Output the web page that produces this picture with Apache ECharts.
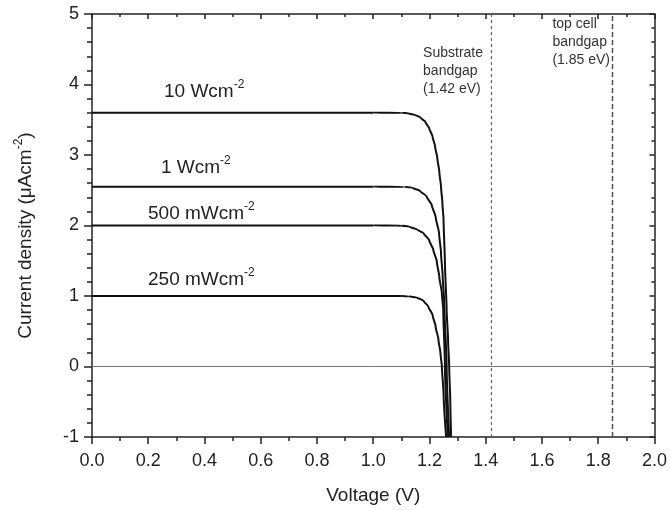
<!DOCTYPE html>
<html>
<head>
<meta charset="utf-8">
<script src="https://cdn.jsdelivr.net/npm/echarts@6/dist/echarts.min.js"></script>
<style>
html,body{margin:0;padding:0;background:#fff;}
#chart{width:670px;height:510px;}
</style>
</head>
<body>
<div id="chart"></div>
<script>
// ---- data ----
const voltage10W   = [0, 1.00, 1.10, 1.126, 1.149, 1.167, 1.185, 1.199, 1.211, 1.220, 1.228, 1.235, 1.241, 1.246, 1.250, 1.255, 1.261, 1.266, 1.270, 1.274, 1.277];
const current10W   = [3.60, 3.60, 3.598, 3.59, 3.567, 3.535, 3.47, 3.38, 3.26, 3.12, 2.95, 2.76, 2.55, 2.31, 2.08, 1.45, 0.80, 0.38, 0.00, -0.50, -1.00];

const voltage1W    = [0, 1.00, 1.11, 1.137, 1.167, 1.190, 1.208, 1.222, 1.234, 1.241, 1.247, 1.252, 1.261, 1.270];
const current1W    = [2.55, 2.55, 2.548, 2.54, 2.49, 2.41, 2.29, 2.12, 1.89, 1.61, 1.27, 0.94, 0.00, -1.00];

const voltage500mW = [0, 1.00, 1.10, 1.126, 1.155, 1.179, 1.199, 1.214, 1.226, 1.235, 1.244, 1.249, 1.255, 1.265];
const current500mW = [2.00, 2.00, 1.998, 1.985, 1.946, 1.89, 1.79, 1.65, 1.49, 1.27, 1.04, 0.80, 0.00, -1.00];

const voltage250mW = [0, 1.00, 1.10, 1.126, 1.155, 1.179, 1.196, 1.211, 1.222, 1.232, 1.239, 1.244, 1.250, 1.259];
const current250mW = [1.00, 1.00, 1.00, 0.995, 0.98, 0.933, 0.848, 0.73, 0.565, 0.376, 0.187, 0.00, -0.38, -1.00];

const bandgapValues = [1.42, 1.85];
const xTicks = {min: 0, max: 2.0, interval: 0.2};
const yTicks = {min: -1, max: 5, interval: 1};

const zip = (xs, ys) => xs.map((x, i) => [x, ys[i]]);

const chart = echarts.init(document.getElementById('chart'), null, {renderer: 'canvas'});

const axisColor = '#222';
const font = 'Liberation Sans, Arial, sans-serif';

function curve(name, xs, ys, extra) {
  return Object.assign({
    name: name,
    type: 'line',
    data: zip(xs, ys),
    showSymbol: false,
    smooth: 0.2,
    smoothMonotone: 'y',
    lineStyle: {color: '#111', width: 2},
    z: 5,
    silent: true
  }, extra || {});
}

const supRich = {
  n: {fontSize: 19, lineHeight: 22, verticalAlign: 'bottom', fontFamily: font, color: '#222'},
  s: {fontSize: 12, lineHeight: 12, verticalAlign: 'top', fontFamily: font, color: '#222'}
};

function label(text, left, top) {
  return {
    type: 'text', left: left, top: top, silent: true, z: 10,
    style: {text: text, rich: supRich, fill: '#222', font: '19px ' + font}
  };
}

const option = {
  animation: false,
  backgroundColor: '#fff',
  grid: {left: 92, right: 13, top: 14, bottom: 73},
  xAxis: [{
    type: 'value', position: 'bottom',
    min: xTicks.min, max: xTicks.max, interval: xTicks.interval,
    name: 'Voltage (V)', nameLocation: 'middle', nameGap: 49,
    nameTextStyle: {fontSize: 19, fontFamily: font, color: '#222'},
    axisLine: {onZero: false, lineStyle: {color: axisColor, width: 1.5}},
    axisTick: {inside: false, length: 7, lineStyle: {color: axisColor, width: 1.5}},
    minorTick: {show: true, splitNumber: 2, length: 4, lineStyle: {color: axisColor, width: 1.5}},
    axisLabel: {fontSize: 18, fontFamily: font, color: '#222', margin: 15,
      formatter: v => v.toFixed(1)},
    splitLine: {show: false}
  }, {
    type: 'value', position: 'top',
    min: xTicks.min, max: xTicks.max, interval: xTicks.interval,
    axisLine: {onZero: false, lineStyle: {color: axisColor, width: 1.5}},
    axisTick: {inside: true, length: 5, lineStyle: {color: axisColor, width: 1.5}},
    minorTick: {show: true, splitNumber: 2, length: 3, lineStyle: {color: axisColor, width: 1.5}},
    axisLabel: {show: false},
    splitLine: {show: false}
  }],
  yAxis: [{
    type: 'value', position: 'left',
    min: yTicks.min, max: yTicks.max, interval: yTicks.interval,
    name: '{n|Current density (μAcm}{s|-2}{n|)}', nameLocation: 'middle', nameGap: 57,
    nameTextStyle: {fontSize: 19, fontFamily: font, color: '#222', rich: supRich, padding: [0, 20, 0, 0]},
    axisLine: {onZero: false, lineStyle: {color: axisColor, width: 1.5}},
    axisTick: {inside: false, length: 8, lineStyle: {color: axisColor, width: 1.5}},
    minorTick: {show: true, splitNumber: 5, length: 5, lineStyle: {color: axisColor, width: 1.5}},
    axisLabel: {fontSize: 18, fontFamily: font, color: '#222', margin: 13},
    splitLine: {show: false}
  }, {
    type: 'value', position: 'right',
    min: yTicks.min, max: yTicks.max, interval: yTicks.interval,
    axisLine: {onZero: false, lineStyle: {color: axisColor, width: 1.5}},
    axisTick: {inside: true, length: 5, lineStyle: {color: axisColor, width: 1.5}},
    minorTick: {show: true, splitNumber: 5, length: 3, lineStyle: {color: axisColor, width: 1.5}},
    axisLabel: {show: false},
    splitLine: {show: false}
  }],
  series: [
    curve('10 Wcm-2', voltage10W, current10W, {
      markLine: {
        silent: true, symbol: 'none', label: {show: false}, z: 2, animation: false,
        data: [
          {yAxis: 0, lineStyle: {color: '#777', width: 1, type: 'solid'}},
          {xAxis: bandgapValues[0], lineStyle: {color: '#666', width: 1.2, type: [3, 3]}},
          {xAxis: bandgapValues[1], lineStyle: {color: '#444', width: 1.4, type: [5, 3]}}
        ]
      }
    }),
    curve('1 Wcm-2', voltage1W, current1W),
    curve('500 mWcm-2', voltage500mW, current500mW),
    curve('250 mWcm-2', voltage250mW, current250mW)
  ],
  graphic: [
    label('{n|10 Wcm}{s|-2}', 164, 79),
    label('{n|1 Wcm}{s|-2}', 161, 155),
    label('{n|500 mWcm}{s|-2}', 148, 201),
    label('{n|250 mWcm}{s|-2}', 148, 267),
    {
      type: 'text', right: 187, top: 44, silent: true, z: 10,
      style: {text: 'Substrate\nbandgap\n(1.42 eV)', align: 'right', lineHeight: 18,
        font: '14px ' + font, fill: '#333'}
    },
    {
      type: 'text', right: 60, top: 15, silent: true, z: 10,
      style: {text: 'top cell\nbandgap\n(1.85 eV)', align: 'right', lineHeight: 18,
        font: '14px ' + font, fill: '#333'}
    }
  ]
};

chart.setOption(option);
</script>
</body>
</html>
